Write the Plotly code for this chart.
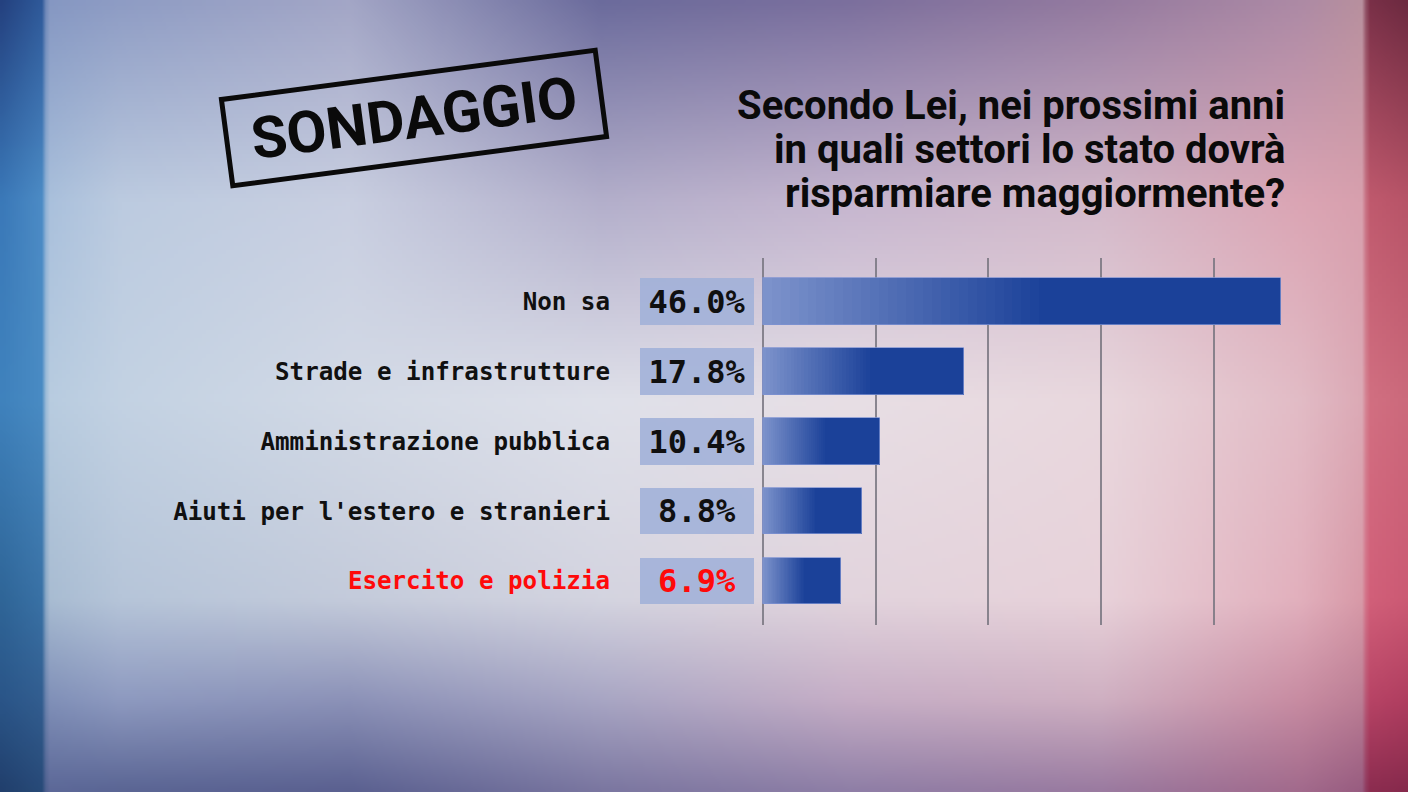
import base64
import struct
import zlib

import numpy as np
import plotly.graph_objects as go

# ---------------- data ----------------
categories = [
    "Non sa",
    "Strade e infrastrutture",
    "Amministrazione pubblica",
    "Aiuti per l'estero e stranieri",
    "Esercito e polizia",
]
values = [46.0, 17.8, 10.4, 8.8, 6.9]
highlight = [False, False, False, False, True]
grid_ticks = [0, 10, 20, 30, 40]

title_lines = [
    "Secondo Lei, nei prossimi anni",
    "in quali settori lo stato dovrà",
    "risparmiare maggiormente?",
]
stamp_text = "SONDAGGIO"

# ---------------- style ----------------
W, H = 1408, 792
PX_PER_UNIT = 11.27
ZERO_PX = 763
PLOT_LEFT_PX, PLOT_RIGHT_PX = 636, 1295
PLOT_TOP_PX, PLOT_BOTTOM_PX = 258, 625
BOX_LEFT_PX, BOX_RIGHT_PX = 640, 754
BAR_WIDTH = 0.67
GRAD_FRAC = 0.55
N_GRAD = 32
LIGHT = np.array([124, 146, 203])
DARK = np.array([27, 65, 153])
RED = "#ff0a0a"
INK = "#101010"
MONO = "DejaVu Sans Mono"
SANS = "Roboto, sans-serif"


# ---------------- background picture (decoration) ----------------
def png_data_uri(arr):
    h, w, _ = arr.shape
    raw = b"".join(b"\x00" + arr[r].tobytes() for r in range(h))

    def chunk(t, d):
        c = struct.pack(">I", len(d)) + t + d
        return c + struct.pack(">I", zlib.crc32(t + d) & 0xFFFFFFFF)

    png = (
        b"\x89PNG\r\n\x1a\n"
        + chunk(b"IHDR", struct.pack(">IIBBBBB", w, h, 8, 2, 0, 0, 0))
        + chunk(b"IDAT", zlib.compress(raw, 9))
        + chunk(b"IEND", b"")
    )
    return "data:image/png;base64," + base64.b64encode(png).decode()


def hx(c):
    c = c.lstrip("#")
    return [int(c[i:i + 2], 16) for i in (0, 2, 4)]


bg_cols = [0, 43, 47, 120, 350, 600, 850, 1100, 1300, 1362, 1368, 1408]
bg_rows = [0, 200, 400, 600, 700, 792]
bg_table = [
    ["#24407e", "#2f5a9a", "#8597c2", "#8e9cc4", "#a3a6c6", "#6b6b9c", "#7b6f9d", "#947a9f", "#ad8aa5", "#b8909e", "#7a3048", "#6c2a40"],
    ["#3a78b8", "#4d8cc6", "#a9c0dc", "#bccbe0", "#c9cfe1", "#b3afcb", "#c6b6cf", "#d3b9ca", "#dba5b4", "#d8a0ae", "#c05a6e", "#b85468"],
    ["#3f82bd", "#4a8cc4", "#b8cce0", "#c3d2e3", "#d3dae6", "#dfe1ea", "#e8dfe5", "#e9d8de", "#e2bcc6", "#dcaab6", "#d27082", "#cc6a7c"],
    ["#2f6597", "#3a72a6", "#a8bcd2", "#b6c5d9", "#c4cbdb", "#d4d4e0", "#e2d4dd", "#e8d2da", "#e2b0bd", "#d89aa8", "#d2607a", "#cc5a74"],
    ["#2a5588", "#335e90", "#8090b8", "#8e9ac0", "#8c92b8", "#a8a6c4", "#c6aec6", "#cfb0c2", "#c88ca2", "#bc7e95", "#b84466", "#b03e60"],
    ["#213f6c", "#284a78", "#5c6898", "#5a6594", "#5a6090", "#7a76a0", "#8e7ea6", "#9a7aa0", "#a26a8c", "#985c80", "#8c2c50", "#862a4c"],
]
IMG_W, IMG_H = 352, 198
xs = (np.arange(IMG_W) + 0.5) * W / IMG_W
ys = (np.arange(IMG_H) + 0.5) * H / IMG_H
tab = np.array([[hx(c) for c in row] for row in bg_table], dtype=float)
rows_interp = np.zeros((len(bg_rows), IMG_W, 3))
for r in range(len(bg_rows)):
    for ch in range(3):
        rows_interp[r, :, ch] = np.interp(xs, bg_cols, tab[r, :, ch])
img = np.zeros((IMG_H, IMG_W, 3))
for ch in range(3):
    for cx in range(IMG_W):
        img[:, cx, ch] = np.interp(ys, bg_rows, rows_interp[:, cx, ch])
bg_uri = png_data_uri(np.clip(img, 0, 255).astype(np.uint8))

# ---------------- figure ----------------
fig = go.Figure()

n = len(categories)
label_text = [
    f"<span style='color:{RED}'>{c}</span>" if h else c
    for c, h in zip(categories, highlight)
]
value_text = [f"{v:.1f}%" for v in values]
value_colors = [RED if h else INK for h in highlight]

box_base = (BOX_LEFT_PX - ZERO_PX) / PX_PER_UNIT
box_len = (BOX_RIGHT_PX - BOX_LEFT_PX) / PX_PER_UNIT

# value boxes
fig.add_trace(go.Bar(
    y=categories, x=[box_len] * n, base=[box_base] * n, orientation="h",
    width=BAR_WIDTH, marker=dict(color="rgba(160,176,216,0.88)", line=dict(width=0)),
    text=value_text, textposition="inside", insidetextanchor="middle",
    constraintext="none", textangle=0,
    textfont=dict(family=MONO, size=32, color=value_colors, weight="bold"),
    hoverinfo="skip", showlegend=False,
))

# main bars (solid dark)
fig.add_trace(go.Bar(
    y=categories, x=values, orientation="h", width=BAR_WIDTH,
    marker=dict(color=f"rgb({DARK[0]},{DARK[1]},{DARK[2]})", line=dict(width=0)),
    hoverinfo="skip", showlegend=False,
))

# gradient segments on the left part of each bar
for k in range(N_GRAD):
    t = k / (N_GRAD - 1)
    col = LIGHT + (DARK - LIGHT) * t
    fig.add_trace(go.Bar(
        y=categories,
        x=[v * GRAD_FRAC / N_GRAD * 1.05 for v in values],
        base=[v * GRAD_FRAC * k / N_GRAD for v in values],
        orientation="h", width=BAR_WIDTH,
        marker=dict(color=f"rgb({col[0]:.0f},{col[1]:.0f},{col[2]:.0f})", line=dict(width=0)),
        hoverinfo="skip", showlegend=False,
    ))

# thin light outline over each bar
fig.add_trace(go.Bar(
    y=categories, x=values, orientation="h", width=BAR_WIDTH,
    marker=dict(color="rgba(0,0,0,0)", line=dict(color="rgba(125,145,210,0.75)", width=1)),
    hoverinfo="skip", showlegend=False,
))

x_range = [(PLOT_LEFT_PX - ZERO_PX) / PX_PER_UNIT, (PLOT_RIGHT_PX - ZERO_PX) / PX_PER_UNIT]

annotations = [
    dict(
        text=f"<b>{stamp_text}</b>", xref="paper", yref="paper",
        x=414 / W, y=1 - 118 / H, xanchor="center", yanchor="middle",
        showarrow=False, textangle=-7.5,
        font=dict(family=SANS, size=58, color="#0a0a0a"),
        bordercolor="#0a0a0a", borderwidth=5, borderpad=0,
        width=372, height=82,
    )
]
title_y = [105, 149, 193]
for line, ty in zip(title_lines, title_y):
    annotations.append(dict(
        text=f"<b>{line}</b>", xref="paper", yref="paper",
        x=1287 / W, y=1 - ty / H, xanchor="right", yanchor="middle",
        showarrow=False, align="right", height=44, valign="middle",
        font=dict(family=SANS, size=40, color="#0a0a0a"),
    ))

fig.update_layout(
    width=W, height=H,
    margin=dict(l=0, r=0, t=0, b=0),
    paper_bgcolor="#c8cfe0",
    plot_bgcolor="rgba(0,0,0,0)",
    barmode="overlay",
    bargap=0,
    images=[dict(
        source=bg_uri, xref="paper", yref="paper", x=0, y=1,
        sizex=1, sizey=1, xanchor="left", yanchor="top",
        sizing="stretch", layer="below",
    )],
    xaxis=dict(
        domain=[PLOT_LEFT_PX / W, PLOT_RIGHT_PX / W],
        range=x_range, tickvals=grid_ticks, showticklabels=False,
        showgrid=True, gridcolor="rgba(120,118,128,0.85)", gridwidth=1.5,
        zeroline=False, showline=False, ticks="",
        fixedrange=True,
    ),
    yaxis=dict(
        domain=[1 - PLOT_BOTTOM_PX / H, 1 - PLOT_TOP_PX / H],
        type="category", categoryorder="array", categoryarray=categories,
        range=[n - 1 + 0.63, -0.62],
        tickvals=categories, ticktext=label_text,
        tickfont=dict(family=MONO, size=24.2, color=INK, weight="bold"),
        ticks="", ticklabelstandoff=25,
        showgrid=False, zeroline=False, showline=False,
        automargin=False, fixedrange=True,
    ),
    annotations=annotations,
    showlegend=False,
)

fig.write_html(
    "out.html",
    config={"displayModeBar": False},
    post_script="document.body.style.margin='0';document.body.style.overflow='hidden';",
)
